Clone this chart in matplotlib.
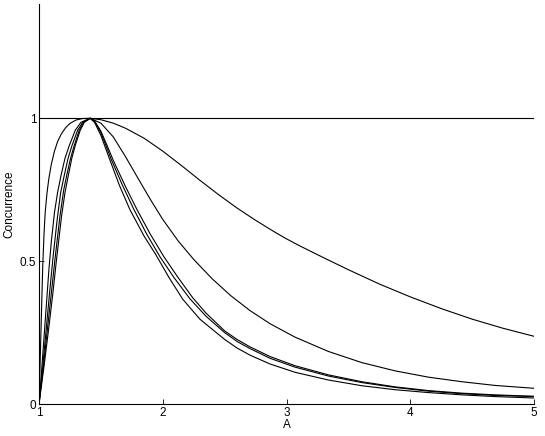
import matplotlib
matplotlib.use("Agg")
import matplotlib.pyplot as plt

# curve 1: fast rise, slow fall
a1 = [1.0, 1.005, 1.01, 1.015, 1.02, 1.03, 1.04, 1.05, 1.065, 1.08, 1.1, 1.125, 1.15, 1.18, 1.215,
      1.25, 1.3, 1.35, 1.414, 1.5, 1.6, 1.7, 1.85, 2.0, 2.15, 2.3, 2.45, 2.6, 2.75, 2.9, 3.0, 3.109,
      3.3, 3.5, 3.75, 4.0, 4.25, 4.5, 4.75, 5.0]
c1 = [0.0, 0.08, 0.16, 0.24, 0.32, 0.48, 0.59, 0.67, 0.74, 0.79, 0.84, 0.885, 0.918, 0.945, 0.967,
      0.982, 0.994, 0.999, 1.0, 0.995, 0.983, 0.965, 0.93, 0.885, 0.835, 0.783, 0.733, 0.686, 0.643, 0.603,
      0.578, 0.553, 0.512, 0.470, 0.420, 0.375, 0.334, 0.297, 0.265, 0.237]

# curve 2: medium fall
a2 = [1.0, 1.02, 1.04, 1.06, 1.08, 1.10, 1.125, 1.15, 1.178, 1.21, 1.245, 1.293, 1.339,
      1.414, 1.5, 1.6, 1.7, 1.8, 1.9, 2.0, 2.126, 2.25, 2.4, 2.55, 2.705, 2.867, 3.069, 3.338,
      3.608, 3.877, 4.146, 4.416, 4.685, 5.0]
c2 = [0.0, 0.11, 0.23, 0.35, 0.47, 0.57, 0.67, 0.74, 0.80, 0.86, 0.905, 0.958, 0.986,
      1.0, 0.983, 0.935, 0.865, 0.790, 0.716, 0.646, 0.570, 0.506, 0.438, 0.379, 0.327, 0.281, 0.234, 0.184,
      0.145, 0.116, 0.094, 0.078, 0.065, 0.055]

# curves 3-5: the close bundle
a3 = [1.0, 1.03, 1.06, 1.09, 1.115, 1.148, 1.175, 1.204, 1.235, 1.267, 1.312, 1.353,
      1.414, 1.45, 1.5, 1.55, 1.6, 1.7, 1.79, 1.9, 2.01, 2.12, 2.242, 2.35, 2.5, 2.6, 2.705, 2.867, 3.069,
      3.338, 3.608, 3.877, 4.146, 4.416, 4.685, 5.0]
c3 = [0.0, 0.13, 0.27, 0.41, 0.52, 0.65, 0.74, 0.80, 0.86, 0.905, 0.958, 0.986,
      1.0, 0.99, 0.955, 0.905, 0.853, 0.76, 0.682, 0.594, 0.515, 0.445, 0.372, 0.318, 0.256, 0.226, 0.200, 0.166, 0.134,
      0.102, 0.078, 0.060, 0.047, 0.038, 0.032, 0.027]

a4 = [1.0, 1.035, 1.07, 1.10, 1.13, 1.17, 1.20, 1.224, 1.255, 1.285, 1.325, 1.361,
      1.414, 1.45, 1.5, 1.587, 1.67, 1.762, 1.87, 1.978, 2.09, 2.22, 2.35, 2.5, 2.6, 2.705, 2.867, 3.069,
      3.338, 3.608, 3.877, 4.146, 4.416, 4.685, 5.0]
c4 = [0.0, 0.13, 0.27, 0.39, 0.51, 0.66, 0.75, 0.80, 0.86, 0.905, 0.958, 0.986,
      1.0, 0.988, 0.95, 0.853, 0.77, 0.685, 0.595, 0.515, 0.443, 0.368, 0.307, 0.250, 0.219, 0.194, 0.160, 0.129,
      0.098, 0.075, 0.058, 0.045, 0.036, 0.030, 0.026]

a5 = [1.0, 1.04, 1.08, 1.11, 1.14, 1.183, 1.21, 1.237, 1.265, 1.293, 1.333, 1.366,
      1.414, 1.45, 1.5, 1.574, 1.65, 1.735, 1.85, 1.945, 2.05, 2.161, 2.3, 2.5, 2.6, 2.705, 2.867, 3.069,
      3.338, 3.608, 3.877, 4.146, 4.416, 4.685, 5.0]
c5 = [0.0, 0.13, 0.27, 0.38, 0.50, 0.66, 0.74, 0.80, 0.86, 0.905, 0.958, 0.986,
      1.0, 0.985, 0.94, 0.853, 0.765, 0.68, 0.587, 0.522, 0.443, 0.367, 0.297, 0.226, 0.196, 0.171, 0.140, 0.111,
      0.084, 0.064, 0.050, 0.040, 0.032, 0.026, 0.021]

flat_a = [1.0, 5.0]
flat_c = [1.0, 1.0]

curves = [(a1, c1), (a2, c2), (a3, c3), (a4, c4), (a5, c5), (flat_a, flat_c)]

x_ticks = [1, 2, 3, 4, 5]
y_ticks = [0, 0.5, 1]
y_tick_labels = ["0", "0.5", "1"]

plt.rcParams["font.family"] = ["Liberation Sans", "DejaVu Sans"]
plt.rcParams["font.size"] = 8.5

fig = plt.figure(figsize=(5.45, 4.36), dpi=100)
ax = fig.add_axes([39 / 545, 1 - 404 / 436, (534 - 39) / 545, 400 / 436])

for xs, ys in curves:
    ax.plot(xs, ys, color="black", linewidth=0.8, solid_joinstyle="round")

ax.set_xlim(1, 5)
ax.set_ylim(0, 1.4)
ax.set_xticks(x_ticks)
ax.set_yticks(y_ticks)
ax.set_yticklabels(y_tick_labels)
ax.tick_params(direction="in", length=3.5, width=0.6, pad=2)
for side in ["top", "right"]:
    ax.spines[side].set_visible(False)
for side in ["left", "bottom"]:
    ax.spines[side].set_linewidth(0.8)

ax.set_xlabel("A", labelpad=0)
ax.set_ylabel("Concurrence", labelpad=3)

fig.savefig("out.png", dpi=100)
